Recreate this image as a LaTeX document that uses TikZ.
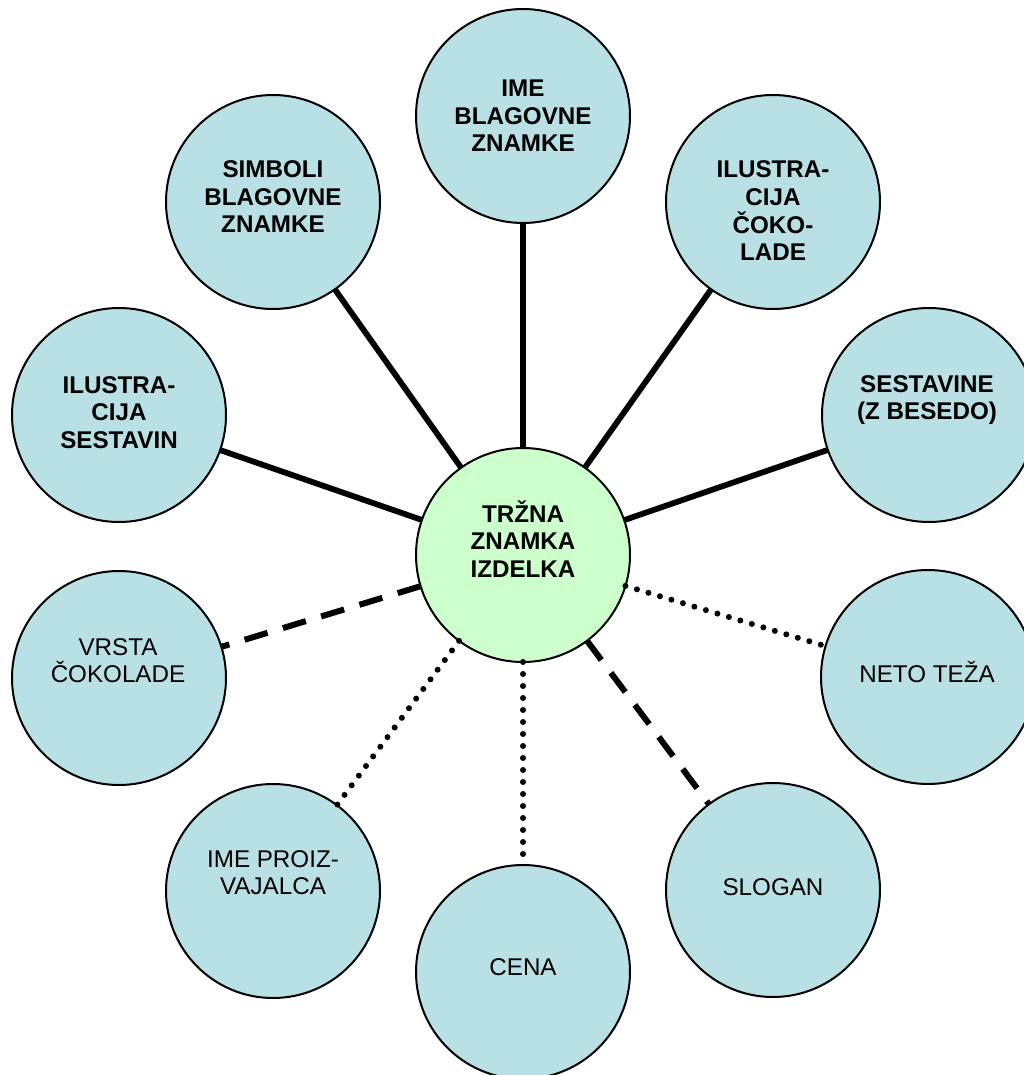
\documentclass[tikz,border=0pt]{standalone}
\usepackage{fontspec}
\setmainfont{Liberation Sans}
\definecolor{bubblefill}{RGB}{185,224,228}
\definecolor{hubfill}{RGB}{204,255,204}
\begin{document}
\begin{tikzpicture}[x=1pt,y=-1pt,
  bubble/.style={circle, draw=black, line width=2pt, fill=bubblefill, minimum size=214pt, inner sep=0pt, outer sep=0pt},
  hub/.style={bubble, fill=hubfill},
  lbl/.style={anchor=base, align=center, font=\fontsize{24.2}{27.5}\selectfont, inner sep=0pt},
  blbl/.style={lbl, font=\fontsize{24.2}{27.5}\selectfont\bfseries},
  solidlink/.style={line width=5.8pt},
  dashlink/.style={line width=6pt, dash pattern=on 24pt off 16pt},
  dotlink/.style={line width=6pt, line cap=round, dash pattern=on 0pt off 12pt}]
\useasboundingbox (0,0) rectangle (1024,1075);
\clip (0,0) rectangle (1024,1075);

% anchor=base of a multi-line node is the baseline of its last line
\node[hub] (hub) at (523,555) {};
\node[blbl] (hubt) at (523,577) {TRŽNA\\ZNAMKA\\IZDELKA};

\node[bubble] (ime) at (523,116) {};
\node[blbl] (imet) at (523,152) {IME\\BLAGOVNE\\ZNAMKE};

\node[bubble] (simb) at (273,202) {};
\node[blbl] (simbt) at (273,233) {SIMBOLI\\BLAGOVNE\\ZNAMKE};

\node[bubble] (iluc) at (773,202) {};
\node[blbl] (iluct) at (773,260.5) {ILUSTRA-\\CIJA\\ČOKO-\\LADE};

\node[bubble] (ilus) at (119,415) {};
\node[blbl] (ilust) at (119,448) {ILUSTRA-\\CIJA\\SESTAVIN};

\node[bubble] (sest) at (929,415) {};
\node[blbl] (sestt) at (927,419.5) {SESTAVINE\\(Z BESEDO)};

\node[bubble] (vrsta) at (119,678) {};
\node[lbl] (vrstat) at (118,682.5) {VRSTA\\ČOKOLADE};

\node[bubble] (neto) at (928,677) {};
\node[lbl] (netot) at (927,682) {NETO TEŽA};

\node[bubble] (proiz) at (273,891) {};
\node[lbl] (proizt) at (273,894.5) {IME PROIZ-\\VAJALCA};

\node[bubble] (cena) at (523,972) {};
\node[lbl] (cenat) at (523,975) {CENA};

\node[bubble] (slogan) at (773,890) {};
\node[lbl] (slogant) at (773,895) {SLOGAN};

\draw[solidlink] (hub) -- (ime);
\draw[solidlink] (hub) -- (simb);
\draw[solidlink] (hub) -- (iluc);
\draw[solidlink] (hub) -- (ilus);
\draw[solidlink] (hub) -- (sest);
\draw[dashlink] (hub) -- (vrsta);
\draw[dashlink] (hub) -- (slogan);
\draw[dotlink] (hub) -- (proiz);
\draw[dotlink] (hub) -- (cena);
\draw[dotlink] (hub) -- (neto);
\end{tikzpicture}
\end{document}
